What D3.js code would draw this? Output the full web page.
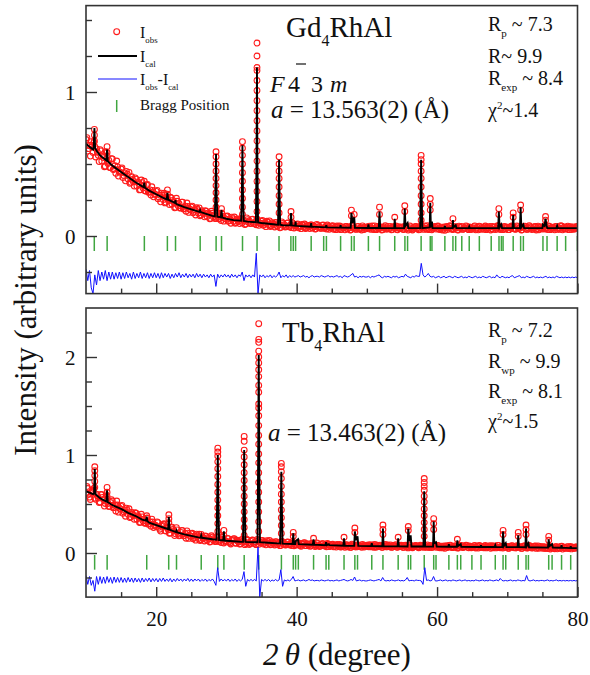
<!DOCTYPE html>
<html>
<head>
<meta charset="utf-8">
<script src="https://cdn.jsdelivr.net/npm/d3@7"></script>
<style>
  body { margin: 0; background: #fff; }
  text { font-family: "Liberation Serif", "Times New Roman", serif; fill: #111; }
</style>
</head>
<body>
<svg id="chart" width="590" height="675"></svg>
<script>
// observed / difference data sit on a regular 2theta grid: 10 .. 80, step 0.25
// the second observed set sits half a step later (10.125 .. 79.875)
const gridStart = 10, gridStep = 0.25, gridStartB = 10.125;

// ---- Gd4RhAl (top panel) ----
const gdObs = [
  .67,.59,.63,.655,.58,.62,.605,.56,.60,.52,.545,.485,.555,.525,.475,.535,.465,.435,.48,.445,
  .465,.406,.438,.449,.395,.366,.411,.377,.403,.347,.364,.322,.37,.348,.312,.358,.305,.284,.317,.292,
  .31,.259,.284,.298,.253,.23,.27,.244,.269,.221,.236,.199,.241,.224,.195,.235,.191,.172,.205,.186,
  .20,.161,.183,.196,.16,.141,.175,.154,.175,.136,.151,.122,.158,.146,.123,.158,.122,.108,.135,.121,
  .134,.102,.119,.131,.102,.089,.118,.102,.121,.092,.105,.083,.114,.105,.088,.116,.089,.078,.101,.089,
  .102,.075,.092,.102,.078,.066,.092,.078,.094,.068,.08,.06,.088,.079,.065,.091,.068,.058,.078,.07,
  .08,.057,.072,.081,.062,.052,.073,.064,.077,.055,.065,.05,.074,.066,.054,.076,.056,.049,.066,.058,
  .068,.047,.061,.069,.052,.044,.063,.055,.066,.048,.057,.043,.065,.058,.046,.067,.05,.042,.059,.053,
  .063,.05,.058,.069,.045,.047,.066,.052,.06,.044,.061,.049,.067,.053,.043,.062,.056,.046,.064,.051,
  .059,.045,.068,.054,.048,.063,.042,.057,.066,.05,.044,.061,.055,.069,.047,.052,.064,.043,.058,.06,
  .066,.049,.055,.042,.062,.058,.046,.068,.051,.045,.063,.056,.041,.06,.067,.048,.053,.064,.044,.057,
  .052,.065,.043,.059,.068,.047,.055,.062,.044,.057,.066,.05,.046,.061,.054,.069,.045,.058,.063,.049,
  .061,.044,.057,.067,.05,.048,.064,.053,.042,.06,.068,.047,.055,.063,.045,.058,.066,.051,.043,.062,
  .048,.063,.056,.045,.066,.052,.059,.043,.064,.057,.046,.068,.053,.049,.061,.044,.065,.055,.047,.06,
  .056
];
const gdObsB = [
  .683,.607,.555,.629,.649,.549,.581,.517,.591,.563,.481,.585,.503,.475,.537,.461,.488,.521,.416,.443,
  .473,.42,.383,.43,.442,.373,.392,.347,.395,.376,.32,.389,.333,.314,.354,.303,.32,.342,.272,.289,
  .317,.27,.237,.283,.297,.235,.257,.218,.265,.247,.196,.262,.21,.194,.235,.188,.206,.229,.164,.183,
  .207,.171,.146,.184,.195,.147,.164,.133,.171,.159,.119,.172,.133,.122,.155,.12,.135,.154,.103,.119,
  .139,.108,.089,.121,.132,.094,.11,.086,.12,.112,.08,.126,.095,.087,.115,.086,.1,.116,.074,.088,
  .108,.082,.065,.095,.105,.071,.084,.063,.093,.086,.057,.098,.071,.063,.089,.064,.076,.092,.056,.069,
  .084,.064,.051,.075,.083,.056,.068,.052,.076,.069,.048,.081,.058,.053,.074,.054,.064,.076,.047,.057,
  .071,.05,.044,.062,.069,.047,.058,.043,.066,.061,.041,.072,.052,.048,.065,.049,.057,.07,.045,.054,
  .062,.068,.046,.053,.07,.044,.059,.064,.042,.055,.071,.048,.05,.067,.045,.061,.069,.043,.056,.063,
  .047,.066,.058,.041,.07,.052,.049,.064,.056,.043,.068,.06,.046,.053,.071,.044,.062,.05,.067,.048,
  .069,.045,.061,.054,.04,.066,.057,.071,.047,.05,.064,.043,.068,.059,.046,.055,.07,.049,.062,.045,
  .056,.07,.048,.043,.065,.06,.047,.069,.052,.058,.042,.067,.063,.045,.071,.05,.055,.044,.066,.059,
  .044,.062,.069,.051,.047,.07,.055,.06,.043,.066,.053,.046,.071,.058,.049,.064,.042,.068,.057,.052,
  .065,.049,.058,.07,.044,.061,.053,.067,.046,.056,.071,.043,.062,.05,.068,.057,.045,.063,.052,.066
];
// observed points climbing each peak: [2theta, [intensities]]
const gdPeakObs = [
  [11.2, [.74,.70,.66]], [13.0, [.62,.58]], [18.3, [.38]], [21.6, [.32,.29]],
  [28.52, [.585,.55,.50,.45,.40,.35,.30,.25,.20]], [29.3, [.19,.16]],
  [32.28, [.655,.61,.56,.50,.44,.38,.32,.26,.20,.15]],
  [34.35, [1.34,1.25,1.17,1.15,1.08,1.01,.94,.87,.80,.73,.66,.59,.52,.45,.38,.31,.24,.17]],
  [37.5, [.55,.50,.45,.40,.34,.28,.22,.16]], [39.2, [.17,.13]],
  [47.8, [.18,.14]], [48.2, [.15]], [51.8, [.20,.15]], [53.97, [.13]], [55.4, [.21,.17]],
  [57.73, [.56,.53,.50,.45,.40,.34,.28,.22,.16,.11]], [59.03, [.26,.22,.18]], [62.26, [.12]],
  [68.8, [.19,.15]], [70.84, [.16,.13]], [71.9, [.215,.18]], [75.45, [.135,.11]]
];
const gdCalc = [
  [10,.64],[10.5,.62],[11.0,.60],[11.1,.62],[11.2,.75],[11.3,.61],[11.6,.585],[12,.56],[12.5,.54],
  [12.9,.525],[13.0,.60],[13.1,.52],[13.5,.50],[14,.48],[15,.445],[16,.41],[17,.375],[18,.345],
  [18.2,.34],[18.3,.37],[18.4,.335],[19,.315],[20,.29],[21,.265],[21.5,.255],[21.6,.30],[21.7,.252],
  [22,.245],[22.7,.228],[22.75,.25],[22.8,.226],[23,.22],[24,.20],[25,.185],[26.15,.168],[26.25,.18],
  [26.35,.166],[27,.155],[28,.14],[28.35,.137],[28.45,.35],[28.52,.57],[28.6,.30],[28.7,.134],
  [29.2,.13],[29.3,.18],[29.4,.128],[30,.12],[31,.11],[32.1,.106],[32.2,.30],[32.28,.63],[32.36,.30],
  [32.46,.104],[33,.10],[34.2,.095],[34.28,.50],[34.35,1.17],[34.42,.50],[34.5,.094],[35,.09],
  [36,.085],[37,.08],[37.35,.079],[37.43,.30],[37.5,.53],[37.57,.30],[37.65,.078],[38,.075],
  [39.1,.074],[39.2,.16],[39.3,.073],[39.8,.071],[39.85,.10],[39.9,.071],[40,.07],[42.0,.065],
  [42.07,.09],[42.14,.065],[44.15,.06],[44.22,.075],[44.3,.06],[46.2,.058],[46.26,.075],[46.32,.058],
  [47.7,.057],[47.8,.16],[47.95,.09],[48.2,.13],[48.3,.057],[50.15,.056],[50.22,.08],[50.3,.056],
  [51.7,.056],[51.8,.17],[51.9,.056],[53.9,.055],[53.97,.12],[54.05,.055],[55.3,.055],[55.4,.19],
  [55.5,.07],[55.8,.09],[55.9,.055],[57.6,.055],[57.65,.30],[57.73,.53],[57.8,.30],[57.9,.055],
  [58.95,.06],[59.03,.23],[59.12,.06],[59.27,.10],[59.35,.055],[61.05,.055],[61.11,.07],[61.17,.055],
  [62.2,.055],[62.26,.11],[62.32,.06],[62.65,.075],[62.75,.055],[64.5,.055],[64.58,.065],[64.65,.055],
  [68.7,.055],[68.8,.17],[68.9,.06],[69.16,.08],[69.25,.055],[70.75,.055],[70.84,.146],[70.93,.055],
  [71.8,.055],[71.9,.20],[72.0,.06],[72.29,.08],[72.4,.055],[75.0,.055],[75.08,.08],[75.3,.07],
  [75.45,.12],[75.6,.07],[75.7,.055],[77.0,.055],[77.1,.07],[77.2,.055],[80,.055]
];
const gdDiff = [
  -.23,-.31,-.24,-.36,-.40,-.27,-.34,-.24,-.31,-.25,-.30,-.24,-.31,-.25,-.30,-.25,-.30,-.255,-.295,-.25,
  -.30,-.255,-.295,-.25,-.29,-.26,-.30,-.25,-.295,-.26,-.29,-.25,-.295,-.26,-.29,-.255,-.295,-.26,-.29,-.255,
  -.29,-.26,-.295,-.255,-.29,-.26,-.285,-.26,-.295,-.265,-.29,-.26,-.285,-.255,-.29,-.265,-.285,-.26,-.29,-.265,
  -.285,-.265,-.29,-.26,-.285,-.265,-.29,-.265,-.285,-.27,-.29,-.265,-.285,-.27,-.35,-.265,-.29,-.27,-.285,-.265,
  -.285,-.27,-.29,-.265,-.285,-.27,-.29,-.27,-.28,-.25,-.31,-.27,-.285,-.27,-.29,-.27,-.285,-.12,-.40,-.27,
  -.285,-.27,-.29,-.275,-.285,-.27,-.29,-.275,-.285,-.275,-.25,-.29,-.275,-.285,-.27,-.29,-.275,-.285,-.275,-.285,
  -.28,-.275,-.285,-.28,-.275,-.285,-.28,-.29,-.28,-.275,-.285,-.28,-.28,-.285,-.275,-.28,-.285,-.28,-.275,-.285,
  -.28,-.285,-.28,-.275,-.285,-.28,-.29,-.275,-.28,-.285,-.28,-.27,-.26,-.285,-.28,-.29,-.28,-.285,-.28,-.285,
  -.285,-.28,-.29,-.28,-.285,-.28,-.275,-.27,-.285,-.29,-.28,-.285,-.28,-.285,-.29,-.28,-.285,-.28,-.29,-.285,
  -.28,-.285,-.265,-.28,-.285,-.29,-.28,-.285,-.275,-.28,-.28,-.19,-.27,-.285,-.275,-.26,-.28,-.285,-.28,-.29,
  -.285,-.28,-.29,-.285,-.28,-.29,-.285,-.28,-.285,-.29,-.28,-.285,-.29,-.285,-.28,-.29,-.285,-.29,-.28,-.285,
  -.29,-.285,-.28,-.29,-.285,-.29,-.28,-.285,-.29,-.285,-.28,-.29,-.285,-.29,-.27,-.285,-.29,-.28,-.285,-.29,
  -.285,-.29,-.28,-.275,-.29,-.285,-.28,-.275,-.29,-.285,-.29,-.28,-.285,-.29,-.285,-.28,-.29,-.285,-.29,-.285,
  -.29,-.285,-.28,-.29,-.285,-.29,-.285,-.29,-.28,-.285,-.29,-.285,-.29,-.285,-.29,-.285,-.29,-.285,-.29,-.285,
  -.29
];
const gdBragg = [11.18,13.01,18.31,21.59,22.75,26.26,28.53,29.30,32.29,34.36,37.49,39.18,39.52,39.85,
  42.07,43.85,44.24,46.26,47.81,48.19,50.22,51.81,53.97,55.42,55.80,57.73,59.03,59.27,61.11,62.26,
  62.65,63.52,64.58,66.02,67.71,68.82,69.16,69.40,70.84,71.90,72.29,75.08,75.66,77.10,78.31,79.99];

// ---- Tb4RhAl (bottom panel) ----
const tbObs = [
  .61,.658,.57,.618,.64,.56,.60,.56,.52,.595,.545,.505,.55,.475,.515,.53,.465,.428,.49,.458,
  .475,.405,.44,.458,.395,.363,.415,.383,.41,.345,.365,.315,.368,.345,.305,.358,.30,.274,.316,.283,
  .27,.309,.243,.274,.292,.229,.263,.236,.203,.264,.225,.196,.235,.175,.21,.228,.178,.151,.203,.179,
  .195,.146,.174,.192,.148,.128,.17,.149,.174,.13,.148,.117,.162,.148,.12,.163,.122,.107,.14,.124,
  .115,.146,.103,.127,.144,.101,.13,.112,.093,.139,.115,.097,.13,.087,.119,.132,.10,.085,.125,.11,
  .125,.091,.112,.126,.097,.084,.113,.098,.116,.087,.10,.078,.109,.101,.084,.113,.087,.077,.10,.09,
  .082,.103,.076,.092,.103,.076,.094,.084,.071,.099,.085,.073,.095,.067,.086,.095,.073,.064,.089,.078,
  .084,.063,.078,.086,.068,.06,.08,.071,.083,.064,.073,.059,.081,.075,.062,.083,.066,.058,.076,.07,
  .079,.064,.072,.083,.059,.061,.08,.066,.074,.058,.075,.063,.081,.067,.057,.076,.07,.06,.078,.065,
  .07,.057,.079,.066,.06,.075,.054,.069,.078,.062,.056,.073,.067,.08,.059,.064,.076,.055,.07,.072,
  .076,.059,.065,.052,.072,.068,.056,.078,.061,.055,.073,.066,.051,.07,.077,.058,.063,.074,.054,.067,
  .06,.073,.051,.067,.076,.055,.063,.07,.052,.065,.074,.058,.054,.069,.062,.077,.053,.066,.071,.057,
  .066,.049,.062,.072,.055,.053,.069,.058,.047,.065,.073,.052,.06,.068,.05,.063,.071,.056,.048,.067,
  .049,.064,.057,.046,.067,.053,.06,.044,.065,.058,.047,.069,.054,.05,.062,.045,.066,.056,.048,.061,
  .05
];
const tbObsB = [
  .678,.599,.546,.63,.657,.549,.585,.516,.597,.568,.479,.593,.505,.475,.544,.462,.491,.53,.417,.449,
  .485,.42,.375,.435,.451,.369,.396,.344,.405,.38,.31,.395,.326,.304,.356,.294,.318,.346,.26,.283,
  .318,.262,.224,.281,.298,.224,.249,.202,.259,.24,.178,.258,.199,.18,.23,.175,.197,.225,.149,.172,
  .201,.158,.131,.176,.191,.135,.158,.123,.17,.157,.112,.176,.132,.118,.159,.117,.137,.16,.102,.122,
  .149,.114,.092,.133,.147,.10,.12,.092,.133,.122,.085,.141,.105,.096,.131,.098,.116,.137,.089,.107,
  .129,.101,.083,.116,.127,.089,.104,.082,.114,.105,.075,.12,.09,.082,.111,.083,.097,.114,.074,.088,
  .106,.083,.069,.096,.105,.075,.088,.07,.097,.09,.066,.103,.078,.072,.095,.073,.084,.097,.065,.076,
  .089,.066,.06,.08,.087,.063,.075,.059,.084,.078,.057,.09,.069,.064,.082,.065,.073,.087,.061,.071,
  .078,.084,.062,.069,.086,.06,.075,.08,.058,.071,.087,.064,.066,.083,.061,.077,.085,.059,.072,.079,
  .058,.077,.069,.052,.081,.063,.06,.075,.067,.054,.079,.071,.057,.064,.082,.055,.073,.061,.078,.059,
  .078,.054,.07,.063,.049,.075,.066,.08,.056,.059,.073,.052,.077,.068,.055,.064,.079,.058,.071,.054,
  .063,.077,.055,.05,.072,.067,.054,.076,.059,.065,.049,.074,.07,.052,.078,.057,.062,.051,.073,.066,
  .049,.067,.074,.056,.052,.075,.06,.065,.048,.071,.058,.051,.076,.063,.054,.069,.047,.073,.062,.057,
  .062,.046,.055,.067,.041,.058,.05,.064,.043,.053,.068,.04,.059,.047,.065,.054,.042,.06,.049,.061
];
const tbPeakObs = [
  [11.25, [.88,.84,.79,.73,.67]], [13.0, [.67,.62,.58]], [18.65, [.38]], [21.8, [.39,.35,.31]],
  [26.41, [.19]],
  [28.77, [1.07,1.03,.99,.93,.86,.78,.70,.62,.54,.46,.38,.30,.22]], [29.64, [.23,.18]],
  [32.53, [1.19,1.14,1.05,.98,.90,.82,.74,.66,.58,.50,.42,.34,.26,.18]],
  [34.6, [2.34,2.18,2.15,2.06,2.00,1.94,1.87,1.80,1.71,1.64,1.52,1.48,1.40,1.30,1.20,1.11,1.01,
          .92,.82,.72,.62,.52,.42,.32,.22]],
  [37.82, [.915,.88,.83,.76,.68,.60,.52,.44,.36,.28,.20]], [39.52, [.21,.17]],
  [42.41, [.15]], [46.75, [.16]], [48.29, [.255,.21]], [52.29, [.285,.24,.19]], [54.46, [.16]],
  [55.9, [.27,.23]], [58.17, [.76,.72,.68,.64,.58,.52,.45,.38,.31,.24,.17]], [59.52, [.35,.30,.24]],
  [62.89, [.14]], [69.4, [.23,.19]], [71.56, [.21,.17]], [72.67, [.285,.24,.19]], [75.9, [.17,.13]]
];
const tbCalc = [
  [10,.63],[10.5,.615],[11.0,.60],[11.15,.61],[11.25,.86],[11.35,.60],[11.6,.585],[12,.56],[12.5,.54],
  [12.9,.525],[13.0,.64],[13.1,.52],[13.5,.50],[14,.48],[15,.45],[16,.41],[17,.38],[18,.34],
  [18.55,.33],[18.65,.37],[18.75,.325],[19,.31],[20,.285],[21,.26],[21.7,.243],[21.8,.37],[21.9,.24],
  [22,.235],[22.8,.214],[22.89,.23],[22.98,.212],[23,.21],[24,.19],[25,.175],[26,.16],[26.32,.157],
  [26.41,.18],[26.5,.155],[27,.15],[28,.14],[28.6,.136],[28.69,.60],[28.77,1.0],[28.85,.55],
  [28.95,.132],[29.55,.128],[29.64,.22],[29.73,.127],[30,.125],[31,.12],[32,.115],[32.36,.114],
  [32.45,.60],[32.53,1.05],[32.61,.55],[32.7,.113],[34,.11],[34.43,.11],[34.52,1.0],[34.6,2.02],
  [34.68,1.0],[34.77,.11],[36,.105],[37.65,.096],[37.74,.45],[37.82,.83],[37.9,.45],[37.99,.095],
  [39.43,.092],[39.52,.20],[39.6,.092],[39.8,.091],[39.85,.12],[40.2,.14],[40.3,.09],[42.3,.085],
  [42.41,.14],[42.5,.085],[44.1,.08],[44.19,.11],[44.3,.08],[44.58,.09],[44.65,.08],[46.65,.075],
  [46.75,.15],[46.85,.075],[48.2,.073],[48.29,.22],[48.45,.13],[48.67,.17],[48.78,.073],[50.6,.07],
  [50.7,.10],[50.8,.07],[52.2,.069],[52.29,.25],[52.38,.069],[54.37,.068],[54.46,.15],[54.55,.068],
  [55.8,.067],[55.9,.25],[56.05,.12],[56.24,.18],[56.35,.067],[58.06,.066],[58.12,.35],[58.17,.63],
  [58.24,.35],[58.3,.066],[59.43,.065],[59.52,.32],[59.6,.10],[59.85,.11],[59.95,.065],[61.6,.064],
  [61.68,.09],[61.76,.064],[62.8,.064],[62.89,.13],[62.98,.07],[63.37,.09],[63.45,.063],[66.2,.062],
  [66.26,.08],[66.32,.062],[68.2,.061],[68.29,.08],[68.38,.061],[69.3,.06],[69.4,.22],[69.5,.07],
  [69.78,.10],[69.88,.06],[71.47,.06],[71.56,.18],[71.65,.06],[72.58,.058],[72.67,.25],[72.76,.07],
  [73.01,.10],[73.1,.058],[75.8,.055],[75.9,.14],[76.0,.07],[76.38,.09],[76.48,.055],[77.65,.054],
  [77.73,.08],[77.8,.054],[79.0,.05],[79.03,.07],[79.1,.05],[80,.05]
];
const tbDiff = [
  -.23,-.32,-.24,-.33,-.28,-.39,-.24,-.32,-.24,-.31,-.245,-.31,-.24,-.30,-.25,-.31,-.245,-.30,-.25,-.30,
  -.25,-.30,-.255,-.30,-.25,-.295,-.255,-.30,-.255,-.295,-.26,-.30,-.255,-.295,-.26,-.29,-.255,-.295,-.26,-.29,
  -.26,-.295,-.26,-.29,-.255,-.29,-.265,-.29,-.26,-.295,-.265,-.29,-.26,-.285,-.265,-.29,-.265,-.285,-.26,-.29,
  -.265,-.29,-.265,-.285,-.265,-.29,-.27,-.285,-.265,-.29,-.27,-.285,-.265,-.29,-.33,-.15,-.29,-.265,-.285,-.27,
  -.285,-.265,-.29,-.27,-.285,-.265,-.29,-.27,-.285,-.27,-.19,-.34,-.27,-.285,-.27,-.285,-.27,-.285,.06,-.45,
  -.27,-.285,-.27,-.285,-.27,-.29,-.275,-.285,-.27,-.285,-.275,-.17,-.34,-.275,-.285,-.275,-.285,-.27,-.24,-.285,
  -.28,-.275,-.285,-.28,-.275,-.285,-.28,-.27,-.28,-.275,-.285,-.28,-.28,-.285,-.275,-.28,-.285,-.28,-.275,-.285,
  -.28,-.285,-.28,-.275,-.285,-.28,-.275,-.27,-.28,-.285,-.28,-.27,-.28,-.245,-.285,-.28,-.275,-.285,-.28,-.285,
  -.285,-.28,-.275,-.28,-.285,-.28,-.275,-.27,-.285,-.25,-.28,-.285,-.28,-.285,-.275,-.28,-.285,-.28,-.275,-.285,
  -.28,-.285,-.275,-.25,-.285,-.28,-.28,-.285,-.275,-.28,-.28,-.285,-.32,-.15,-.28,-.275,-.285,-.28,-.24,-.285,
  -.285,-.28,-.275,-.285,-.28,-.275,-.285,-.28,-.285,-.275,-.28,-.285,-.28,-.275,-.285,-.28,-.275,-.285,-.28,-.285,
  -.28,-.285,-.275,-.28,-.285,-.28,-.275,-.285,-.28,-.285,-.275,-.28,-.285,-.28,-.275,-.285,-.26,-.28,-.285,-.28,
  -.285,-.28,-.275,-.285,-.28,-.285,-.275,-.28,-.285,-.28,-.285,-.23,-.28,-.285,-.28,-.275,-.285,-.28,-.285,-.28,
  -.28,-.285,-.28,-.275,-.285,-.28,-.285,-.28,-.275,-.285,-.28,-.285,-.28,-.285,-.28,-.285,-.28,-.285,-.28,-.285,
  -.28
];
const tbBragg = [11.23,13.01,18.65,21.78,22.89,26.41,28.77,29.64,32.53,34.60,37.83,39.52,39.85,40.24,
  42.41,44.19,44.58,46.75,48.29,48.67,50.70,52.29,54.46,55.90,56.24,58.17,59.52,59.85,61.68,62.89,
  63.37,64.96,66.26,68.29,69.40,69.78,71.56,72.67,73.01,75.90,76.38,77.73,79.03];

const xMajor = [20, 40, 60, 80];
const xMinor = [15, 25, 30, 35, 45, 50, 55, 65, 70, 75];

const svg = d3.select("#chart");
const x = d3.scaleLinear().domain([10, 80]).range([86, 577.5]);

const panels = [
  { id: "gd", obs: gdObs, obsB: gdObsB, peaks: gdPeakObs, calc: gdCalc, diff: gdDiff, bragg: gdBragg,
    y: d3.scaleLinear().domain([-0.4, 1.6]).range([293.6, 5.6]),
    major: [0, 1], minor: [-0.25, 0.25, 0.5, 0.75, 1.25, 1.5], braggSpan: [0, -0.105], xLabels: false },
  { id: "tb", obs: tbObs, obsB: tbObsB, peaks: tbPeakObs, calc: tbCalc, diff: tbDiff, bragg: tbBragg,
    y: d3.scaleLinear().domain([-0.45, 2.5]).range([597.1, 308]),
    major: [0, 1, 2], minor: [-0.25, 0.25, 0.5, 0.75, 1.25, 1.5, 1.75, 2.25], braggSpan: [-0.02, -0.17], xLabels: true }
];

const grid = (vals, start) => vals.map((v, i) => [start + i * gridStep, v]);

panels.forEach(p => {
  const y = p.y;
  const [x0, x1] = x.range();
  const [yb, yt] = y.range();

  svg.append("clipPath").attr("id", "clip-" + p.id)
    .append("rect").attr("x", x0).attr("y", yt).attr("width", x1 - x0).attr("height", yb - yt);
  const g = svg.append("g").attr("clip-path", `url(#clip-${p.id})`);

  // observed points
  const obsPts = grid(p.obs, gridStart)
    .concat(grid(p.obsB, gridStartB))
    .concat(p.peaks.flatMap(([px, ys]) => ys.map(v => [px, v])));
  g.selectAll(".obs").data(obsPts).enter().append("circle")
    .attr("cx", d => x(d[0])).attr("cy", d => y(d[1])).attr("r", 2.9)
    .attr("fill", "none").attr("stroke", "#ff1a1a").attr("stroke-width", 1.1);

  // calculated profile
  g.append("path").datum(p.calc)
    .attr("d", d3.line().x(d => x(d[0])).y(d => y(d[1])))
    .attr("fill", "none").attr("stroke", "#000").attr("stroke-width", 1.9);

  // bragg positions
  g.selectAll(".bragg").data(p.bragg).enter().append("line")
    .attr("x1", d => x(d)).attr("x2", d => x(d))
    .attr("y1", y(p.braggSpan[0])).attr("y2", y(p.braggSpan[1]))
    .attr("stroke", "#40a640").attr("stroke-width", 1.5);

  // difference
  g.append("path").datum(grid(p.diff, gridStart))
    .attr("d", d3.line().x(d => x(d[0])).y(d => y(d[1])))
    .attr("fill", "none").attr("stroke", "#1010ff").attr("stroke-width", 1);

  // axes, ticks pointing inward
  const xAxisMinor = d3.axisBottom(x).tickValues(xMinor).tickSize(-5).tickFormat("");
  const xAxisMajor = d3.axisBottom(x).tickValues(xMajor).tickSize(-10).tickPadding(14)
    .tickFormat(p.xLabels ? d3.format("d") : "");
  svg.append("g").attr("transform", `translate(0,${yb})`).call(xAxisMinor);
  svg.append("g").attr("transform", `translate(0,${yb})`).attr("class", "xmaj").call(xAxisMajor);

  const yAxisMinor = d3.axisLeft(y).tickValues(p.minor).tickSize(-6).tickFormat("");
  const yAxisMajor = d3.axisLeft(y).tickValues(p.major).tickSize(-11).tickPadding(10.5).tickFormat(d3.format("d"));
  svg.append("g").attr("transform", `translate(${x0},0)`).call(yAxisMinor);
  svg.append("g").attr("transform", `translate(${x0},0)`).call(yAxisMajor);

  svg.append("rect").attr("x", x0).attr("y", yt).attr("width", x1 - x0).attr("height", yb - yt)
    .attr("fill", "none").attr("stroke", "#333").attr("stroke-width", 1.6);
});

svg.selectAll(".domain").remove();
svg.selectAll(".tick line").attr("stroke", "#333").attr("stroke-width", 1.4);
svg.selectAll(".tick text").style("font-family", "Liberation Serif").style("font-size", "21px")
  .attr("fill", "#111");
svg.selectAll("g:not(.xmaj) > .tick text").attr("dy", "0.36em");

// rich text helper: parts = [text, kind], kind n | i | sub | sup
function rich(xPos, yPos, size, parts) {
  const t = svg.append("text").attr("x", xPos).attr("y", yPos).style("font-size", size + "px");
  let shift = 0;
  parts.forEach(([s, k]) => {
    const target = k === "sub" ? size * 0.32 : k === "sup" ? -size * 0.42 : 0;
    const ts = t.append("tspan").text(s).attr("dy", target - shift);
    shift = target;
    if (k === "sub" || k === "sup") ts.style("font-size", (size * 0.55) + "px");
    if (k === "i") ts.style("font-style", "italic");
  });
  return t;
}

// titles and refinement values
rich(286, 37, 29, [["Gd", "n"], ["4", "sub"], ["RhAl", "n"]]);
rich(282, 342, 29, [["Tb", "n"], ["4", "sub"], ["RhAl", "n"]]);

rich(488, 31, 20, [["R", "n"], ["p", "sub"], [" ~ 7.3", "n"]]);
rich(488, 63, 20, [["R~ 9.9", "n"]]);
rich(488, 85, 20, [["R", "n"], ["exp", "sub"], [" ~ 8.4", "n"]]);
rich(488, 117, 20, [["\u03C7", "n"], ["2", "sup"], ["~1.4", "n"]]);

rich(488, 337, 20, [["R", "n"], ["p", "sub"], [" ~ 7.2", "n"]]);
rich(488, 368, 20, [["R", "n"], ["wp", "sub"], [" ~ 9.9", "n"]]);
rich(488, 398, 20, [["R", "n"], ["exp", "sub"], [" ~ 8.1", "n"]]);
rich(488, 428, 20, [["\u03C7", "n"], ["2", "sup"], ["~1.5", "n"]]);

// space group F -4 3 m
rich(270, 92, 24, [["F", "i"]]);
rich(288, 92, 24, [["4", "n"]]);
rich(311, 92, 24, [["3", "n"]]);
rich(330, 92, 24, [["m", "i"]]);
svg.append("line").attr("x1", 296).attr("x2", 306).attr("y1", 64).attr("y2", 64)
  .attr("stroke", "#111").attr("stroke-width", 1.2);

rich(271, 118, 25, [["a", "i"], [" = 13.563(2) (\u00C5)", "n"]]);
rich(268, 441, 25, [["a", "i"], [" = 13.463(2) (\u00C5)", "n"]]);

// legend
svg.append("circle").attr("cx", 116.7).attr("cy", 31.7).attr("r", 2.9)
  .attr("fill", "none").attr("stroke", "#ff1a1a").attr("stroke-width", 1.1);
svg.append("line").attr("x1", 98).attr("x2", 137).attr("y1", 56).attr("y2", 56)
  .attr("stroke", "#000").attr("stroke-width", 1.9);
svg.append("line").attr("x1", 98).attr("x2", 137).attr("y1", 79).attr("y2", 79)
  .attr("stroke", "#1010ff").attr("stroke-width", 1);
svg.append("line").attr("x1", 116.7).attr("x2", 116.7).attr("y1", 100).attr("y2", 112)
  .attr("stroke", "#40a640").attr("stroke-width", 1.5);
rich(140, 38, 16, [["I", "n"], ["obs", "sub"]]);
rich(140, 62, 16, [["I", "n"], ["cal", "sub"]]);
rich(140, 85, 16, [["I", "n"], ["obs", "sub"], ["-I", "n"], ["cal", "sub"]]);
rich(140, 110, 15, [["Bragg Position", "n"]]);

// axis titles
svg.append("text").attr("transform", "translate(36,300) rotate(-90)")
  .attr("text-anchor", "middle").style("font-size", "31px")
  .text("Intensity (arbitrary units)");
rich(263, 665, 31, [["2", "i"], ["\u2009\u03B8", "i"], [" (degree)", "n"]]);
</script>
</body>
</html>
